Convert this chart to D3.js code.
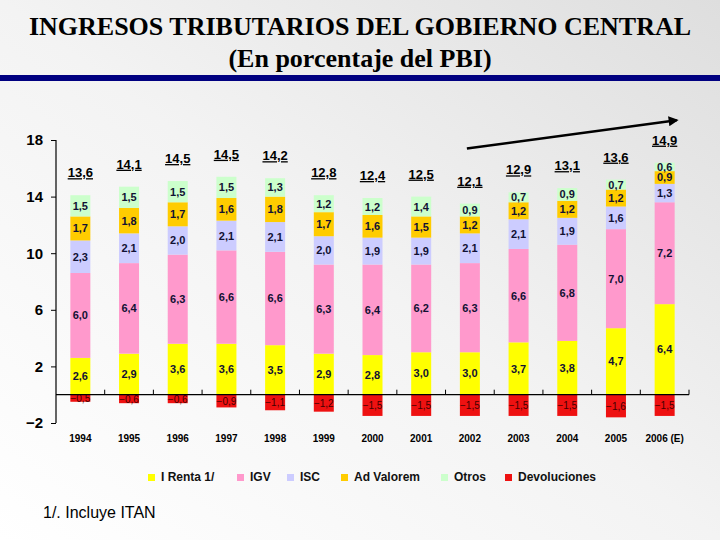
<!DOCTYPE html>
<html><head><meta charset="utf-8">
<script src="https://cdn.jsdelivr.net/npm/d3@7"></script>
<style>html,body{margin:0;padding:0;}svg{display:block;}</style>
</head><body>
<script>
const years = ["1994","1995","1996","1997","1998","1999","2000","2001","2002","2003","2004","2005","2006 (E)"];
const renta = [2.6,2.9,3.6,3.6,3.5,2.9,2.8,3.0,3.0,3.7,3.8,4.7,6.4];
const igv = [6.0,6.4,6.3,6.6,6.6,6.3,6.4,6.2,6.3,6.6,6.8,7.0,7.2];
const isc = [2.3,2.1,2.0,2.1,2.1,2.0,1.9,1.9,2.1,2.1,1.9,1.6,1.3];
const adValorem = [1.7,1.8,1.7,1.6,1.8,1.7,1.6,1.5,1.2,1.2,1.2,1.2,0.9];
const otros = [1.5,1.5,1.5,1.5,1.3,1.2,1.2,1.4,0.9,0.7,0.9,0.7,0.6];
const devoluciones = [-0.5,-0.6,-0.6,-0.9,-1.1,-1.2,-1.5,-1.5,-1.5,-1.5,-1.5,-1.6,-1.5];
const totals = [13.6,14.1,14.5,14.5,14.2,12.8,12.4,12.5,12.1,12.9,13.1,13.6,14.9];
const yTicks = [-2,2,6,10,14,18];
const seriesNames = ["I Renta 1/","IGV","ISC","Ad Valorem","Otros","Devoluciones"];
const seriesColors = ["#ffff00","#ff99cc","#ccccff","#ffcc00","#ccffcc","#ee1111"];
const arrowFrom = {year:"2002", value:17.4, dx:-3};
const arrowTo = {year:"2006 (E)", value:19.4, dx:12};

const W=720,H=540;
const svg=d3.select("body").append("svg").attr("width",W).attr("height",H);
const defs=svg.append("defs");
const bg=defs.append("linearGradient").attr("id","bg").attr("x1","0").attr("y1","1").attr("x2","1").attr("y2","0");
bg.append("stop").attr("offset","0").attr("stop-color","#ffffff");
bg.append("stop").attr("offset","0.5").attr("stop-color","#f3f3f3");
bg.append("stop").attr("offset","1").attr("stop-color","#dedede");
svg.append("rect").attr("width",W).attr("height",H).attr("fill","url(#bg)");
defs.append("marker").attr("id","arr").attr("viewBox","0 0 10 10").attr("refX",8).attr("refY",5)
  .attr("markerWidth",4).attr("markerHeight",4).attr("orient","auto")
  .append("path").attr("d","M0,0L10,5L0,10z").attr("fill","#000");

// title
svg.append("text").attr("x",360).attr("y",35).attr("text-anchor","middle")
  .attr("font-family","Liberation Serif, Times New Roman, serif").attr("font-weight","bold").attr("font-size",26)
  .text("INGRESOS TRIBUTARIOS DEL GOBIERNO CENTRAL");
svg.append("text").attr("x",360).attr("y",67).attr("text-anchor","middle")
  .attr("font-family","Liberation Serif, Times New Roman, serif").attr("font-weight","bold").attr("font-size",26)
  .text("(En porcentaje del PBI)");
svg.append("rect").attr("x",0).attr("y",75).attr("width",W).attr("height",6).attr("fill","#000080");

const x=d3.scaleBand().domain(years).range([56,689]).padding(0);
const y=d3.scaleLinear().domain([-2,18]).range([423,140]);
const bw=20;
const fmt=v=>d3.format(".1f")(v).replace(".",",");

const pos=[renta,igv,isc,adValorem,otros];
const g=svg.append("g");
years.forEach((yr,i)=>{
  let base=0;
  const cx=x(yr)+x.bandwidth()/2;
  pos.forEach((arr,k)=>{
    const v=arr[i];
    g.append("rect").attr("x",cx-bw/2).attr("width",bw).attr("y",y(base+v)).attr("height",y(base)-y(base+v)).attr("fill",seriesColors[k]);
    g.append("text").attr("x",cx).attr("y",(y(base)+y(base+v))/2+4).attr("text-anchor","middle")
      .attr("font-family","Liberation Sans, Arial, sans-serif").attr("font-weight","bold").attr("font-size",11)
      .attr("fill","#111133").text(fmt(v));
    base+=v;
  });
  const d=devoluciones[i];
  g.append("rect").attr("x",cx-bw/2).attr("width",bw).attr("y",y(0)).attr("height",y(d)-y(0)).attr("fill",seriesColors[5]);
  g.append("text").attr("x",cx).attr("y",(y(0)+y(d))/2+4).attr("text-anchor","middle")
    .attr("font-family","Liberation Sans, Arial, sans-serif").attr("font-size",10)
    .attr("fill","#440000").text(fmt(d));
  g.append("text").attr("x",cx).attr("y",y(base)-18).attr("text-anchor","middle")
    .attr("font-family","Liberation Sans, Arial, sans-serif").attr("font-weight","bold").attr("font-size",13)
    .attr("text-decoration","underline").attr("fill","#000").text(fmt(totals[i]));
});

// y axis
const ya=svg.append("g").attr("transform","translate(56,0)")
  .call(d3.axisLeft(y).tickValues(yTicks).tickSize(5).tickPadding(8).tickFormat(d3.format("d")));
ya.select(".domain").attr("stroke","#000").attr("stroke-width",1.2).attr("d","M0,140V423");
ya.selectAll("text").attr("font-family","Liberation Sans, Arial, sans-serif").attr("font-weight","bold").attr("font-size",15).attr("fill","#000");

// x axis line at zero with tick marks at band boundaries
const xa=svg.append("g");
xa.append("line").attr("x1",56).attr("x2",689).attr("y1",y(0)).attr("y2",y(0)).attr("stroke","#000").attr("stroke-width",1.2);
years.forEach(yr=>{
  const xe=x(yr)+x.bandwidth();
  xa.append("line").attr("x1",xe).attr("x2",xe).attr("y1",y(0)).attr("y2",y(0)-5).attr("stroke","#000");
  xa.append("text").attr("x",x(yr)+x.bandwidth()/2).attr("y",442).attr("text-anchor","middle")
    .attr("font-family","Liberation Sans, Arial, sans-serif").attr("font-weight","bold").attr("font-size",10).text(yr);
});

// arrow
svg.append("line")
  .attr("x1",x(arrowFrom.year)+x.bandwidth()/2+arrowFrom.dx).attr("y1",y(arrowFrom.value))
  .attr("x2",x(arrowTo.year)+x.bandwidth()/2+arrowTo.dx).attr("y2",y(arrowTo.value))
  .attr("stroke","#000").attr("stroke-width",2.5).attr("marker-end","url(#arr)");

// legend
const legX=[148,237,287,341,441,505];
seriesNames.forEach((n,k)=>{
  svg.append("rect").attr("x",legX[k]).attr("y",474).attr("width",7).attr("height",7).attr("fill",seriesColors[k]);
  svg.append("text").attr("x",legX[k]+13).attr("y",481).attr("font-family","Liberation Sans, Arial, sans-serif")
    .attr("font-weight","bold").attr("font-size",12).attr("fill","#111").text(n);
});

svg.append("text").attr("x",43).attr("y",518).attr("font-family","Liberation Sans, Arial, sans-serif")
  .attr("font-size",16).attr("fill","#000").text("1/. Incluye ITAN");
</script>
</body></html>
